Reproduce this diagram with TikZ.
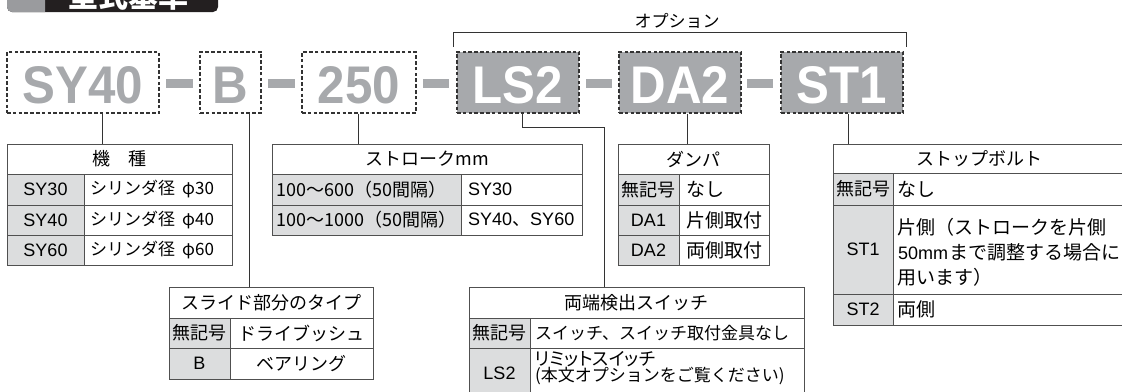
\documentclass[tikz,border=0pt]{standalone}
\usepackage{graphicx}
\usepackage{fontspec}
\setmainfont{Liberation Sans}
\newfontfamily\jp{Noto Sans CJK JP}
\newfontfamily\jpp[RawFeature=+palt]{Noto Sans CJK JP}
\definecolor{codegray}{HTML}{A7A9AC}
\definecolor{cellgray}{HTML}{DCDDDE}
\definecolor{linegray}{HTML}{505050}
\definecolor{dashdark}{HTML}{333333}
\definecolor{titleblack}{HTML}{231F20}
\definecolor{titlegray}{HTML}{9A9B9E}
\begin{document}
\begin{tikzpicture}[x=1pt,y=-1pt,
  codebox/.style={draw=dashdark, dash pattern=on 3.6pt off 2.2pt, line width=1.1pt, minimum height=61pt, inner sep=0pt},
  optbox/.style={codebox, fill=codegray},
  bigtxt/.style={anchor=base, inner sep=0pt, font=\fontsize{53}{53}\selectfont\bfseries},
  codetxt/.style={bigtxt, text=codegray},
  opttxt/.style={bigtxt, text=white},
  tline/.style={draw=linegray, line width=1pt},
  conn/.style={draw=dashdark, line width=1pt},
  hdr/.style={draw=linegray, line width=1pt, inner sep=0pt, font=\jp\fontsize{18}{18}\selectfont},
  jt/.style={inner sep=0pt, font=\jp\fontsize{#1}{#1}\selectfont},
  jt/.default=18,
  lt/.style={inner sep=0pt, font=\fontsize{18}{18}\selectfont},
]
\useasboundingbox (0,0) rectangle (1122,391);
\clip (0,0) rectangle (1122,391);

% title bar (cut off at the top)
\begin{scope}
\fill[titleblack, rounded corners=5pt] (7,-30) rectangle (218,12);
\clip (0,-30) rectangle (45,20);
\fill[titlegray, rounded corners=5pt] (7,-30) rectangle (218,12);
\end{scope}
\node[text=white, font=\jp\bfseries\fontsize{30}{30}\selectfont, anchor=base, inner sep=0pt] (title) at (128,7) {型式基準};

% code boxes
\node[codebox, minimum width=152pt] (sy) at (83,82.5) {};
\node[codetxt] (syt) at (83,103) {\scalebox{0.93}[1]{SY40}};
\node[codebox, minimum width=61pt] (b) at (230.5,82.5) {};
\node[codetxt] (bt) at (230.5,103) {\scalebox{0.93}[1]{B}};
\node[codebox, minimum width=114pt] (n250) at (359,82.5) {};
\node[codetxt] (n250t) at (359,103) {\scalebox{0.93}[1]{250}};
\node[optbox, minimum width=122pt] (ls) at (518,82.5) {};
\node[opttxt] (lst) at (518,103) {\scalebox{0.93}[1]{LS2}};
\node[optbox, minimum width=122pt] (da) at (680,82.5) {};
\node[opttxt] (dat) at (680,103) {\scalebox{0.93}[1]{DA2}};
\node[optbox, minimum width=122pt] (st) at (842,82.5) {};
\node[opttxt] (stt) at (842,103) {\scalebox{0.93}[1]{ST1}};

% hyphen bars
\fill[codegray] (166,79) rectangle (193,88);
\fill[codegray] (268,79) rectangle (295,88);
\fill[codegray] (423,79) rectangle (449,88);
\fill[codegray] (586,79) rectangle (612,88);
\fill[codegray] (747,79) rectangle (773,88);

% option bracket
\node[jt=17] (opt) at (677,21) {オプション};
\draw[conn] (453,47) -- (453,32) -| (906,47);

% table 1: 機種
\fill[cellgray] (7,174) rectangle (84,265);
\draw[tline] (7,144) rectangle (232,265) (7,205) -- (232,205) (7,235) -- (232,235) (84,174) -- (84,265);
\node[hdr, minimum width=225pt, minimum height=30pt] (t1) at (119.5,159) {機　種};
\node[lt] (t1a) at (45.5,189.5) {SY30};
\node[lt] (t1b) at (45.5,220) {SY40};
\node[lt] (t1c) at (45.5,250) {SY60};
\node[jt=17, anchor=west] (t1d) at (90,189.5) {シリンダ径\hspace{7pt}φ30};
\node[jt=17, anchor=west] (t1e) at (90,220) {シリンダ径\hspace{7pt}φ40};
\node[jt=17, anchor=west] (t1f) at (90,250) {シリンダ径\hspace{7pt}φ60};

% table 2: ストローク
\fill[cellgray] (272,174) rectangle (461,235);
\draw[tline] (272,144) rectangle (582,235) (272,205) -- (582,205) (461,174) -- (461,235);
\node[hdr, minimum width=310pt, minimum height=30pt] (t2) at (427,159) {ストロークmm};
\node[jt, anchor=west] (t2a) at (276,189.5) {100〜600（50間隔）};
\node[jt, anchor=west] (t2b) at (276,220) {100〜1000（50間隔）};
\node[lt, anchor=west] (t2c) at (468,189.5) {SY30};
\node[lt, anchor=west] (t2d) at (468,220) {SY40{\jp 、}SY60};

% table 3: ダンパ
\fill[cellgray] (618,174) rectangle (679,265);
\draw[tline] (618,144) rectangle (769,265) (618,205) -- (769,205) (618,235) -- (769,235) (679,174) -- (679,265);
\node[hdr, minimum width=151pt, minimum height=30pt] (t3) at (693.5,159) {ダンパ};
\node[jt] (t3a) at (648.5,189.5) {無記号};
\node[lt] (t3b) at (648.5,220) {DA1};
\node[lt] (t3c) at (648.5,250) {DA2};
\node[jt=19, anchor=west] (t3d) at (686,189.5) {なし};
\node[jt=19, anchor=west] (t3e) at (686,220) {片側取付};
\node[jt=19, anchor=west] (t3f) at (686,250) {両側取付};

% table 4: スライド部分のタイプ
\fill[cellgray] (169,318) rectangle (230,379);
\draw[tline] (169,287) rectangle (373,379) (169,348) -- (373,348) (230,318) -- (230,379);
\node[hdr, minimum width=204pt, minimum height=31pt] (t4) at (271,302.5) {スライド部分のタイプ};
\node[jt] (t4a) at (199.5,333) {無記号};
\node[lt] (t4b) at (199.5,363.5) {B};
\node[jt] (t4c) at (301.5,333) {ドライブッシュ};
\node[jt] (t4d) at (301.5,363.5) {ベアリング};

% table 5: 両端検出スイッチ
\fill[cellgray] (469,318) rectangle (530,400);
\draw[tline] (469,287) -- (469,400) (804,287) -- (804,400) (469,348) -- (804,348) (530,318) -- (530,400);
\node[hdr, minimum width=335pt, minimum height=31pt] (t5) at (636.5,302.5) {両端検出スイッチ};
\node[jt] (t5a) at (499.5,333) {無記号};
\node[lt] (t5b) at (499.5,373) {LS2};
\node[jt=17, anchor=west] (t5c) at (535,333) {スイッチ、スイッチ取付金具なし};
\node[inner sep=0pt, font=\jpp\fontsize{18}{18}\selectfont, anchor=west] (t5d) at (535,359) {リミットスイッチ};
\node[jt=17, anchor=west] (t5e) at (535,376) {(本文オプションをご覧ください)};

% table 6: ストップボルト
\fill[cellgray] (833,173) rectangle (893,325);
\draw[tline] (833,144) -- (833,325) -- (1130,325) (833,205) -- (1130,205) (833,294) -- (1130,294) (893,173) -- (893,325);
\node[hdr, minimum width=292pt, minimum height=29pt] (t6) at (979,158.5) {ストップボルト};
\node[jt] (t6a) at (863,189) {無記号};
\node[lt] (t6b) at (863,249.5) {ST1};
\node[lt] (t6c) at (863,309.5) {ST2};
\node[jt=19, anchor=west] (t6d) at (897,189) {なし};
\node[jt=19, anchor=west] (t6e) at (897,227) {片側（ストロークを片側};
\node[lt, anchor=base west] (t6f) at (898,259.5) {50mm};
\node[jt=19, anchor=base west] (t6g) at ([xshift=1pt]t6f.base east) {まで調整する場合に};
\node[jt=19, anchor=west] (t6h) at (897,277) {用います）};
\node[jt=19, anchor=west] (t6i) at (897,309.5) {両側};

% connectors
\draw[conn] (sy.south -| 102,0) -- (t1.north -| 102,0);
\draw[conn] (b.south -| 249,0) -- (t4.north -| 249,0);
\draw[conn] (n250.south -| 358,0) -- (t2.north -| 358,0);
\draw[conn] (ls.south -| 522,0) -- (522,127) -- (604,127) -- (t5.north -| 604,0);
\draw[conn] (da.south -| 687,0) -- (t3.north -| 687,0);
\draw[conn] (st.south -| 848,0) -- (t6.north -| 848,0);
\end{tikzpicture}
\end{document}
